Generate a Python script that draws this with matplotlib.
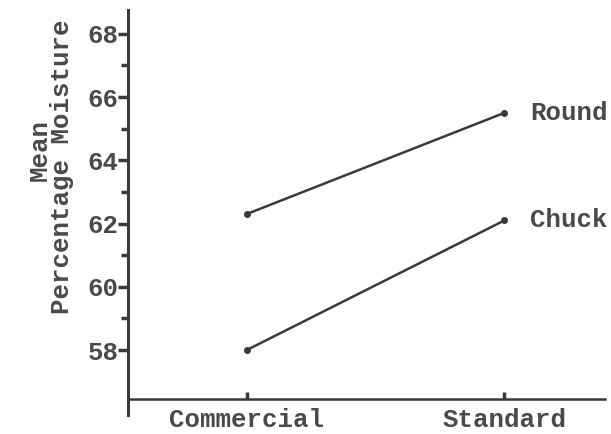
import matplotlib
matplotlib.use("Agg")
import matplotlib.pyplot as plt
from matplotlib.ticker import FixedLocator

# Mean percentage moisture by grade and cut
grades = ["Commercial", "Standard"]
round_vals = [62.3, 65.5]
chuck_vals = [58.0, 62.1]
series_names = ["Round", "Chuck"]
y_major = [58, 60, 62, 64, 66, 68]
y_minor = [59, 61, 63, 65, 67]

ink = "#3a3a3a"
text_ink = "#4a4a4a"
font = dict(family=["Liberation Mono", "DejaVu Sans Mono"], weight="bold",
            size=18.5, color=text_ink)

fig = plt.figure(figsize=(6.11, 4.34), dpi=100)
ax = fig.add_axes([128 / 611, 1 - 415 / 434, (605 - 128) / 611, (415 - 10) / 434])

x = list(range(len(grades)))
for vals in (round_vals, chuck_vals):
    ax.plot(x, vals, color=ink, lw=1.8, marker="o", ms=4, mfc=ink, mec=ink)

for name, vals in zip(series_names, (round_vals, chuck_vals)):
    ax.text(x[-1] + 0.1, vals[-1], name, va="center", ha="left", **font)

ax.set_xlim(-0.46, 1.39)
ax.set_ylim(55.95, 68.75)

for side in ("top", "right"):
    ax.spines[side].set_visible(False)
ax.spines["bottom"].set_position(("data", 56.45))
ax.spines["left"].set_linewidth(2.2)
ax.spines["bottom"].set_linewidth(1.8)
ax.spines["left"].set_color(ink)
ax.spines["bottom"].set_color(ink)

ax.set_yticks(y_major)
ax.set_yticklabels([str(v) for v in y_major], fontdict=font)
ax.yaxis.set_minor_locator(FixedLocator(y_minor))
ax.tick_params(axis="y", which="major", direction="out", length=7, width=2.5,
               color=ink, pad=0)
ax.tick_params(axis="y", which="minor", direction="out", length=5, width=2.5,
               color=ink)

ax.set_xticks(x)
ax.set_xticklabels(grades, fontdict=font)
ax.tick_params(axis="x", direction="in", length=5, width=2.5, color=ink, pad=6)

fig.text(40 / 611, 1 - 150 / 434, "Mean", rotation=90, ha="center", va="center", **font)
fig.text(62 / 611, 1 - 167 / 434, "Percentage Moisture", rotation=90,
         ha="center", va="center", **font)

fig.savefig("out.png", dpi=100, facecolor="white")
